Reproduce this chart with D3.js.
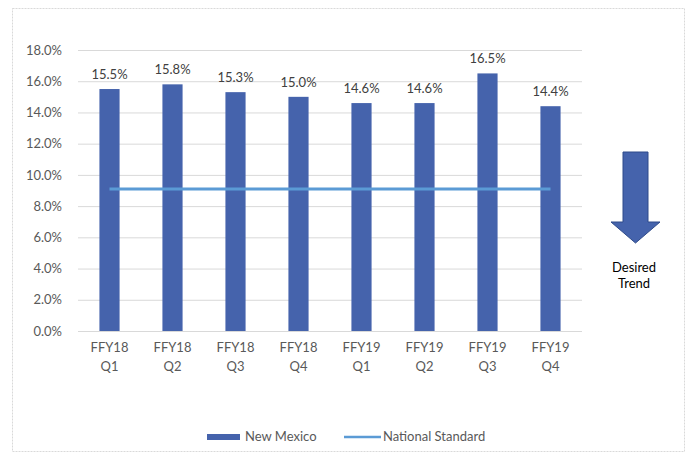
<!DOCTYPE html>
<html>
<head>
<meta charset="utf-8">
<script src="https://cdn.jsdelivr.net/npm/d3@7"></script>
<style>
  body { margin: 0; background: #fff; }
  text { font-family: Lato, "Open Sans", sans-serif; }
</style>
</head>
<body>
<div id="chart"></div>
<script>
// quarters and values
var quarters = ["FFY18 Q1", "FFY18 Q2", "FFY18 Q3", "FFY18 Q4", "FFY19 Q1", "FFY19 Q2", "FFY19 Q3", "FFY19 Q4"];
var newMexico = [15.5, 15.8, 15.3, 15.0, 14.6, 14.6, 16.5, 14.4];
var nationalStandard = [9.1, 9.1, 9.1, 9.1, 9.1, 9.1, 9.1, 9.1];
var yTicks = [0, 2, 4, 6, 8, 10, 12, 14, 16, 18];

var W = 689, H = 454;
var margin = {top: 50, right: 107, bottom: 123, left: 78},
    width = W - margin.left - margin.right,
    height = H - margin.top - margin.bottom;

var svg = d3.select("#chart").append("svg")
    .attr("width", W)
    .attr("height", H);

// outer chart border
svg.append("rect")
    .attr("x", 12.5).attr("y", 8.5)
    .attr("width", 672).attr("height", 443)
    .attr("fill", "none")
    .attr("stroke", "#d9d9d9")
    .attr("stroke-dasharray", "2,1");

var g = svg.append("g")
    .attr("transform", "translate(" + margin.left + "," + margin.top + ")");

var x = d3.scaleBand()
    .domain(quarters)
    .range([0, width])
    .paddingInner(0.68)
    .paddingOuter(0.34);

var y = d3.scaleLinear()
    .domain([0, 18])
    .range([height, 0]);

// gridlines
g.append("g")
    .call(d3.axisLeft(y).tickValues(yTicks).tickSize(-width).tickFormat(""))
    .call(a => a.select(".domain").remove())
    .selectAll("line")
    .attr("stroke", "#d9d9d9");

// y labels
g.append("g")
    .call(d3.axisLeft(y).tickValues(yTicks).tickSize(0).tickPadding(16).tickFormat(d => d.toFixed(1) + "%"))
    .call(a => a.select(".domain").remove())
    .selectAll("text")
    .attr("fill", "#595959")
    .style("font-size", "13px");

// baseline
g.append("line")
    .attr("x1", 0).attr("x2", width)
    .attr("y1", height + 0.5).attr("y2", height + 0.5)
    .attr("stroke", "#d9d9d9");

// bars
g.selectAll(".bar")
    .data(newMexico)
    .enter().append("rect")
    .attr("x", (d, i) => x(quarters[i]))
    .attr("y", d => y(d))
    .attr("width", x.bandwidth())
    .attr("height", d => height - y(d))
    .attr("fill", "#4563ac");

// data labels
g.selectAll(".lbl")
    .data(newMexico)
    .enter().append("text")
    .attr("x", (d, i) => x(quarters[i]) + x.bandwidth() / 2)
    .attr("y", d => y(d) - 10)
    .attr("text-anchor", "middle")
    .attr("fill", "#404040")
    .style("font-size", "13px")
    .text(d => d.toFixed(1) + "%");

// national standard line
var line = d3.line()
    .x((d, i) => x(quarters[i]) + x.bandwidth() / 2)
    .y(d => y(d));

g.append("path")
    .datum(nationalStandard)
    .attr("d", line)
    .attr("fill", "none")
    .attr("stroke", "#5b9bd5")
    .attr("stroke-width", 3);

// x labels, two lines
var xl = g.selectAll(".xl")
    .data(quarters)
    .enter().append("text")
    .attr("text-anchor", "middle")
    .attr("fill", "#595959")
    .style("font-size", "13px");
xl.append("tspan")
    .attr("x", d => x(d) + x.bandwidth() / 2)
    .attr("y", height + 21)
    .text(d => d.split(" ")[0]);
xl.append("tspan")
    .attr("x", d => x(d) + x.bandwidth() / 2)
    .attr("y", height + 40)
    .text(d => d.split(" ")[1]);

// legend
var leg = svg.append("g");
leg.append("rect")
    .attr("x", 207).attr("y", 434)
    .attr("width", 33).attr("height", 6)
    .attr("fill", "#4563ac");
leg.append("text")
    .attr("x", 245).attr("y", 441)
    .attr("fill", "#595959")
    .style("font-size", "13px")
    .text("New Mexico");
leg.append("line")
    .attr("x1", 344).attr("x2", 381)
    .attr("y1", 437).attr("y2", 437)
    .attr("stroke", "#5b9bd5")
    .attr("stroke-width", 2.5);
leg.append("text")
    .attr("x", 383).attr("y", 441)
    .attr("fill", "#595959")
    .style("font-size", "13px")
    .text("National Standard");

// desired trend arrow
svg.append("path")
    .attr("d", "M623,152 L648,152 L648,222 L660,222 L635.5,243 L611,222 L623,222 Z")
    .attr("fill", "#4563ac")
    .attr("stroke", "#2f4b8a")
    .attr("stroke-width", 1);

var dt = svg.append("text")
    .attr("text-anchor", "middle")
    .attr("fill", "#000")
    .style("font-size", "13px");
dt.append("tspan").attr("x", 634).attr("y", 272).text("Desired");
dt.append("tspan").attr("x", 634).attr("y", 288).text("Trend");
</script>
</body>
</html>
